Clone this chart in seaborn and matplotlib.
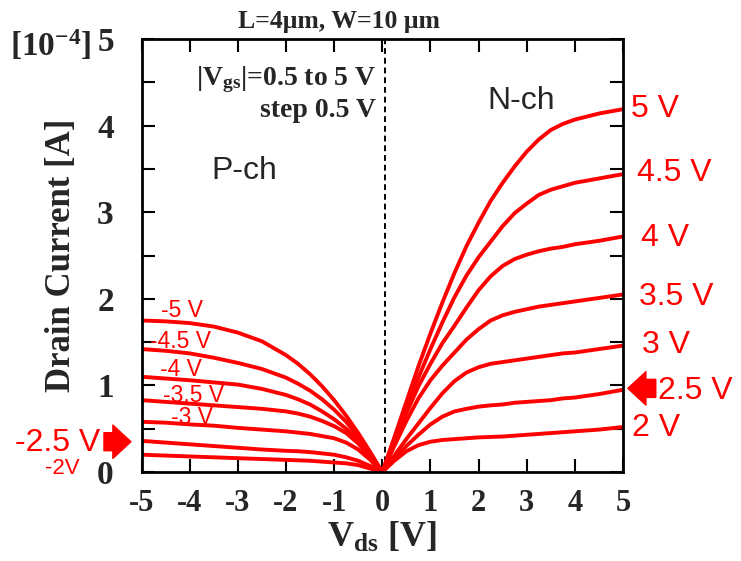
import numpy as np
import pandas as pd
import matplotlib
matplotlib.use("Agg")
import matplotlib.pyplot as plt
import seaborn as sns

# ---------------- data (Id in units of 1e-4 A) ----------------
vds_n = [0, 0.25, 0.5, 0.75, 1, 1.25, 1.5, 1.75, 2, 2.25, 2.5, 2.75, 3, 3.25, 3.5, 3.75, 4, 4.5, 5]
id_n = {
    "5 V":   [0, 0.40, 0.81, 1.22, 1.60, 1.96, 2.30, 2.61, 2.88, 3.13, 3.34, 3.53, 3.70, 3.84, 3.95, 4.02, 4.07, 4.14, 4.19],
    "4.5 V": [0, 0.37, 0.74, 1.09, 1.42, 1.73, 2.02, 2.27, 2.48, 2.66, 2.84, 2.99, 3.10, 3.20, 3.26, 3.30, 3.34, 3.39, 3.44],
    "4 V":   [0, 0.34, 0.68, 0.99, 1.25, 1.49, 1.69, 1.90, 2.10, 2.26, 2.38, 2.46, 2.51, 2.55, 2.58, 2.60, 2.63, 2.67, 2.72],
    "3.5 V": [0, 0.30, 0.59, 0.85, 1.06, 1.23, 1.38, 1.53, 1.65, 1.75, 1.81, 1.85, 1.88, 1.91, 1.93, 1.95, 1.97, 2.01, 2.05],
    "3 V":   [0, 0.19, 0.38, 0.56, 0.74, 0.91, 1.05, 1.15, 1.21, 1.25, 1.27, 1.29, 1.31, 1.33, 1.35, 1.37, 1.38, 1.42, 1.46],
    "2.5 V": [0, 0.15, 0.30, 0.43, 0.55, 0.64, 0.70, 0.73, 0.755, 0.77, 0.78, 0.80, 0.81, 0.82, 0.83, 0.85, 0.86, 0.90, 0.95],
    "2 V":   [0, 0.13, 0.24, 0.31, 0.35, 0.37, 0.38, 0.39, 0.40, 0.405, 0.41, 0.42, 0.43, 0.44, 0.45, 0.46, 0.47, 0.49, 0.52],
}
vds_p = [-5, -4.5, -4, -3.5, -3, -2.5, -2, -1.75, -1.5, -1.25, -1, -0.75, -0.5, -0.25, 0]
id_p = {
    "-5 V":   [1.75, 1.74, 1.72, 1.68, 1.61, 1.51, 1.35, 1.25, 1.13, 0.99, 0.83, 0.65, 0.45, 0.23, 0],
    "-4.5 V": [1.42, 1.40, 1.37, 1.32, 1.26, 1.19, 1.09, 1.02, 0.94, 0.84, 0.72, 0.58, 0.41, 0.21, 0],
    "-4 V":   [1.10, 1.08, 1.06, 1.035, 1.01, 0.96, 0.89, 0.84, 0.78, 0.70, 0.61, 0.50, 0.37, 0.19, 0],
    "-3.5 V": [0.83, 0.81, 0.79, 0.77, 0.75, 0.73, 0.70, 0.675, 0.64, 0.59, 0.53, 0.45, 0.33, 0.17, 0],
    "-3 V":   [0.58, 0.57, 0.55, 0.535, 0.51, 0.49, 0.47, 0.455, 0.44, 0.415, 0.39, 0.34, 0.26, 0.14, 0],
    "-2.5 V": [0.36, 0.34, 0.32, 0.30, 0.28, 0.26, 0.245, 0.24, 0.23, 0.215, 0.20, 0.17, 0.13, 0.07, 0],
    "-2 V":   [0.20, 0.19, 0.18, 0.17, 0.16, 0.15, 0.14, 0.135, 0.13, 0.12, 0.11, 0.10, 0.08, 0.04, 0],
}
x_ticks = [-5, -4, -3, -2, -1, 0, 1, 2, 3, 4, 5]
y_ticks = [0, 1, 2, 3, 4, 5]

rows = []
for name, vals in id_n.items():
    for x, y in zip(vds_n, vals):
        rows.append(("N " + name, x, y))
for name, vals in id_p.items():
    for x, y in zip(vds_p, vals):
        rows.append(("P " + name, x, y))
df = pd.DataFrame(rows, columns=["curve", "Vds", "Id"])

# ---------------- style ----------------
sns.set_style("ticks")
SERIF = "Liberation Serif"
SANS = "Liberation Sans"
plt.rcParams["font.family"] = [SERIF, "DejaVu Serif"]
plt.rcParams["mathtext.fontset"] = "custom"
plt.rcParams["mathtext.rm"] = "Liberation Serif:bold"
plt.rcParams["mathtext.bf"] = "Liberation Serif:bold"
plt.rcParams["mathtext.it"] = "Liberation Serif:bold"
plt.rcParams["mathtext.default"] = "bf"
RED = "#ff0000"

fig = plt.figure(figsize=(7.41, 5.61), dpi=100)
ax = fig.add_axes([0.191, 0.1586, 0.6498, 0.7718])

palette = {c: RED for c in df["curve"].unique()}
sns.lineplot(data=df, x="Vds", y="Id", hue="curve", palette=palette,
             estimator=None, sort=False, legend=False, linewidth=2.8, ax=ax)
for ln in ax.get_lines():
    ln.set_solid_joinstyle("round")
    ln.set_solid_capstyle("round")

ax.axvline(0.05, color="black", linestyle=(0, (3, 2)), linewidth=1.4, zorder=1)

ax.set_xlim(-5, 5)
ax.set_ylim(0, 5)
ax.set_xticks(x_ticks)
ax.set_xticklabels([str(t) for t in x_ticks])
ax.set_yticks(y_ticks)
ax.set_yticklabels([str(t) for t in y_ticks])
ax.set_yticks(np.arange(0, 5.01, 0.5), minor=True)
for s in ax.spines.values():
    s.set_visible(True)
    s.set_linewidth(2)
    s.set_color("black")
ax.tick_params(axis="both", which="both", direction="in", top=True, right=True,
               length=9.5, width=1.5, color="black")
ax.tick_params(axis="x", which="major", labelsize=22, pad=12)
ax.tick_params(axis="y", which="major", labelsize=24, pad=20)
for lab in ax.get_xticklabels() + ax.get_yticklabels():
    lab.set_fontweight("bold")

ax.set_xlabel("V$_{ds}$ [V]", fontsize=26, fontweight="bold", labelpad=2)
ax.set_ylabel("Drain Current [A]", fontsize=25, fontweight="bold", labelpad=14)

fig.text(0.457, 0.962, "L=4\u03bcm, W=10 \u03bcm", fontsize=18.5, fontweight="bold",
         ha="center", va="center")
fig.text(0.014, 0.918, "[10$^{-4}$]", fontsize=24, fontweight="bold",
         ha="left", va="center")

ax.text(-0.13, 4.53, "|V$_{gs}$|=0.5 to 5 V", fontsize=20, fontweight="bold",
        ha="right", va="center")
ax.text(-0.13, 4.18, "step 0.5 V", fontsize=20, fontweight="bold",
        ha="right", va="center")
ax.text(2.88, 4.28, "N-ch", family=SANS, fontsize=23, ha="center", va="center")
ax.text(-2.87, 3.48, "P-ch", family=SANS, fontsize=23, ha="center", va="center")

# right labels (N-ch)
right_labels = [("5 V", 5.16, 4.19), ("4.5 V", 5.29, 3.45), ("4 V", 5.37, 2.70),
                ("3.5 V", 5.33, 2.02), ("3 V", 5.39, 1.47), ("2.5 V", 5.72, 0.94),
                ("2 V", 5.18, 0.51)]
for t, x, y in right_labels:
    ax.text(x, y, t, family=SANS, color=RED, fontsize=23, ha="left", va="center",
            clip_on=False)

# left labels (P-ch)
left_labels = [("-5 V", -4.59, 1.865), ("-4.5 V", -4.83, 1.505), ("-4 V", -4.61, 1.187),
               ("-3.5 V", -4.56, 0.886), ("-3 V", -4.39, 0.624)]
for t, x, y in left_labels:
    ax.text(x, y, t, family=SANS, color=RED, fontsize=16.5, ha="left", va="center")
ax.text(-7.62, 0.33, "-2.5 V", family=SANS, color=RED, fontsize=23, ha="left",
        va="center", clip_on=False)
ax.text(-7.0, 0.04, "-2V", family=SANS, color=RED, fontsize=16, ha="left",
        va="center", clip_on=False)

arrow_style = "simple,head_length=0.65,head_width=1.2,tail_width=0.65"
ax.annotate("", xy=(5.10, 0.966), xytext=(5.68, 0.966),
            arrowprops=dict(arrowstyle=arrow_style, color=RED, shrinkA=0, shrinkB=0,
                            mutation_scale=20),
            annotation_clip=False)
ax.annotate("", xy=(-5.22, 0.35), xytext=(-5.78, 0.35),
            arrowprops=dict(arrowstyle=arrow_style, color=RED, shrinkA=0, shrinkB=0,
                            mutation_scale=20),
            annotation_clip=False)

fig.savefig("out.png", dpi=100)
